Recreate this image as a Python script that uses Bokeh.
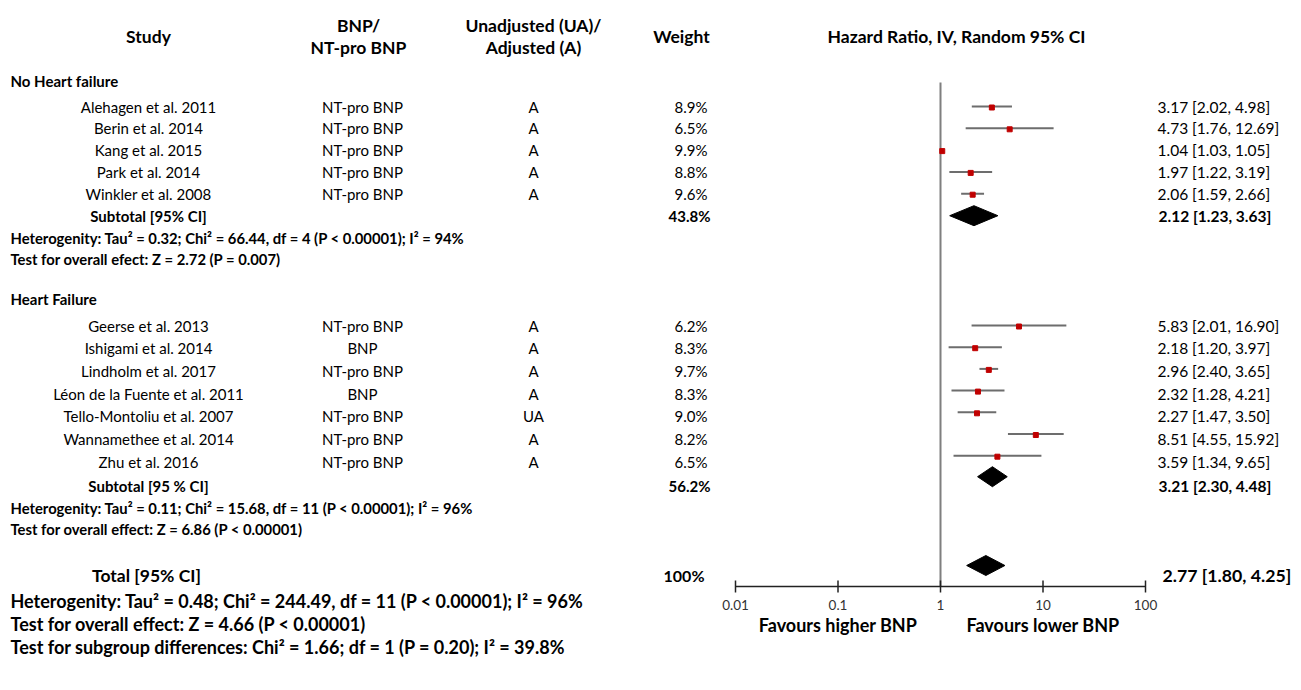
import math
from bokeh.plotting import figure
from bokeh.models import Range1d, LogScale
from bokeh.core.properties import value
from bokeh.embed import file_html
from bokeh.resources import INLINE

# ---------------- data ----------------
g1_name = "No Heart failure"
g1_study = ["Alehagen et al. 2011", "Berin et al. 2014", "Kang et al. 2015",
            "Park et al. 2014", "Winkler et al. 2008"]
g1_marker = ["NT-pro BNP", "NT-pro BNP", "NT-pro BNP", "NT-pro BNP", "NT-pro BNP"]
g1_adj = ["A", "A", "A", "A", "A"]
g1_weight = [8.9, 6.5, 9.9, 8.8, 9.6]
g1_hr = [3.17, 4.73, 1.04, 1.97, 2.06]
g1_lo = [2.02, 1.76, 1.03, 1.22, 1.59]
g1_hi = [4.98, 12.69, 1.05, 3.19, 2.66]
g1_sub = [2.12, 1.23, 3.63]
g1_sub_weight = 43.8
g1_het = "Heterogenity: Tau\u00b2 = 0.32; Chi\u00b2 = 66.44, df = 4 (P < 0.00001); I\u00b2 = 94%"
g1_test = "Test for overall efect: Z = 2.72 (P = 0.007)"

g2_name = "Heart Failure"
g2_study = ["Geerse et al. 2013", "Ishigami et al. 2014", "Lindholm et al. 2017",
            "L\u00e9on de la Fuente et al. 2011", "Tello-Montoliu et al. 2007",
            "Wannamethee et al. 2014", "Zhu et al. 2016"]
g2_marker = ["NT-pro BNP", "BNP", "NT-pro BNP", "BNP", "NT-pro BNP", "NT-pro BNP", "NT-pro BNP"]
g2_adj = ["A", "A", "A", "A", "UA", "A", "A"]
g2_weight = [6.2, 8.3, 9.7, 8.3, 9.0, 8.2, 6.5]
g2_hr = [5.83, 2.18, 2.96, 2.32, 2.27, 8.51, 3.59]
g2_lo = [2.01, 1.20, 2.40, 1.28, 1.47, 4.55, 1.34]
g2_hi = [16.90, 3.97, 3.65, 4.21, 3.50, 15.92, 9.65]
g2_sub = [3.21, 2.30, 4.48]
g2_sub_weight = 56.2
g2_het = "Heterogenity: Tau\u00b2 = 0.11; Chi\u00b2 = 15.68, df = 11 (P < 0.00001); I\u00b2 = 96%"
g2_test = "Test for overall effect: Z = 6.86 (P < 0.00001)"

total = [2.77, 1.80, 4.25]
total_weight = "100%"
total_lines = [
    "Heterogenity: Tau\u00b2 = 0.48; Chi\u00b2 = 244.49,  df = 11 (P < 0.00001); I\u00b2 = 96%",
    "Test for overall effect: Z = 4.66 (P < 0.00001)",
    "Test for subgroup differences: Chi\u00b2 = 1.66; df = 1 (P = 0.20); I\u00b2 = 39.8%",
]
ticks = [0.01, 0.1, 1, 10, 100]
tick_labels = ["0.01", "0.1", "1", "10", "100"]
favours = ["Favours higher BNP", "Favours lower BNP"]

# ---------------- layout ----------------
FONT = "Lato"
W, H = 1301, 690
p = figure(width=W, height=H, output_backend="svg", toolbar_location=None,
           x_range=Range1d(0, W), y_range=Range1d(H, 0),
           x_axis_location=None, y_axis_location=None, min_border=0,
           outline_line_color=None, background_fill_color="white")
p.grid.visible = False

PX_DEC = 102.5
X001 = 735.0
lo_log = -2 - X001 / PX_DEC
hi_log = -2 + (W - X001) / PX_DEC
p.extra_x_ranges = {"hr": Range1d(10 ** lo_log, 10 ** hi_log)}
p.extra_x_scales = {"hr": LogScale()}


def txt(x, y, s, size, bold=False, align="left", color="black", rn="default"):
    p.text(x=[x], y=[y], text=[s], text_font=value(FONT), text_font_size=f"{size}px",
           text_font_style="bold" if bold else "normal", text_align=align,
           text_baseline="middle", text_color=color, x_range_name=rn)


STUDY_X, MARK_X, ADJ_X, WT_X, HR_X = 148, 362, 533, 707, 1157
HDR = 17.5
ROW = 15
HRS = 15.5
SMALL = 14.8
BIG = 18

# headers
txt(STUDY_X, 36, "Study", HDR, True, "center")
txt(358, 25, "BNP/", HDR, True, "center")
txt(358, 47, "NT-pro BNP", HDR, True, "center")
txt(533, 25, "Unadjusted (UA)/", HDR, True, "center")
txt(533, 47, "Adjusted (A)", HDR, True, "center")
txt(681, 36, "Weight", HDR, True, "center")
txt(956, 36, "Hazard Ratio, IV, Random 95% CI", HDR, True, "center")

# null line
p.segment(x0=[1], y0=[82], x1=[1], y1=[586], line_color="#7f7f7f", line_width=2,
          x_range_name="hr")


def group(name, name_y, y0, pitch, fpitch, fgap, studies, marker, adj, weight, hr, lo, hi,
          sub, sub_w, sub_label, sub_gap, het, test):
    txt(10, name_y, name, ROW, True)
    ys = [y0 + i * pitch for i in range(len(studies))]
    fys = [y0 + i * fpitch for i in range(len(studies))]
    for i, y in enumerate(ys):
        txt(STUDY_X, y, studies[i], ROW, False, "center")
        txt(MARK_X, y, marker[i], ROW, False, "center")
        txt(ADJ_X, y, adj[i], ROW, False, "center")
        txt(WT_X, y, f"{weight[i]:.1f}%", ROW, False, "right")
        txt(HR_X, y, f"{hr[i]:.2f} [{lo[i]:.2f}, {hi[i]:.2f}]", HRS, False)
    p.segment(x0=lo, y0=fys, x1=hi, y1=fys, line_color="#6d6d6d", line_width=2,
              x_range_name="hr")
    p.scatter(x=hr, y=[y + 1 for y in fys], marker="square", size=5, fill_color="#c00000",
              line_color="#c00000", x_range_name="hr")
    sy = ys[-1] + sub_gap
    dy = fys[-1] + fgap
    txt(STUDY_X, sy, sub_label, ROW, True, "center")
    txt(WT_X + 3, sy, f"{sub_w:.1f}%", ROW, True, "right")
    txt(HR_X + 1, sy, f"{sub[0]:.2f} [{sub[1]:.2f}, {sub[2]:.2f}]", HRS, True)
    p.patches(xs=[[sub[1], sub[0], sub[2], sub[0]]], ys=[[dy, dy - 10, dy, dy + 10]],
              fill_color="black", line_color="black", x_range_name="hr")
    txt(10, sy + 22, het, SMALL, True)
    txt(10, sy + 43, test, SMALL, True)


group(g1_name, 80, 106, 21.8, 21.8, 22, g1_study, g1_marker, g1_adj, g1_weight,
      g1_hr, g1_lo, g1_hi, g1_sub, g1_sub_weight, "Subtotal [95% CI]", 22, g1_het, g1_test)
group(g2_name, 298, 325, 22.7, 21.7, 21, g2_study, g2_marker, g2_adj, g2_weight,
      g2_hr, g2_lo, g2_hi, g2_sub, g2_sub_weight, "Subtotal [95 % CI]", 24, g2_het, g2_test)

# total
TY = 575
txt(146, TY, "Total [95% CI]", 17.5, True, "center")
txt(WT_X - 3, TY, total_weight, 16, True, "right")
txt(1162, TY, f"{total[0]:.2f} [{total[1]:.2f}, {total[2]:.2f}]", 17.7, True)
p.patches(xs=[[total[1], total[0], total[2], total[0]]], ys=[[TY - 10, TY - 20, TY - 10, TY]],
          fill_color="black", line_color="black", x_range_name="hr")
for i, s in enumerate(total_lines):
    txt(10, 600 + i * 23, s, BIG, True)

# axis
AY = 586
p.segment(x0=[ticks[0]], y0=[AY], x1=[ticks[-1]], y1=[AY], line_color="#222222",
          line_width=1.5, x_range_name="hr")
p.segment(x0=ticks, y0=[AY - 6] * len(ticks), x1=ticks, y1=[AY + 6] * len(ticks),
          line_color="#222222", line_width=1.5, x_range_name="hr")
p.text(x=ticks, y=[604] * len(ticks), text=tick_labels, text_font=value(FONT),
       text_font_size="13.5px", text_align="center", text_baseline="middle",
       text_color="#333333", x_range_name="hr")
p.text(x=[0.1, 10], y=[624, 624], text=favours, text_font=value(FONT),
       text_font_size="18px", text_font_style="bold", text_align="center",
       text_baseline="middle", text_color="black", x_range_name="hr")

open("out.html", "w").write(file_html(p, INLINE))
